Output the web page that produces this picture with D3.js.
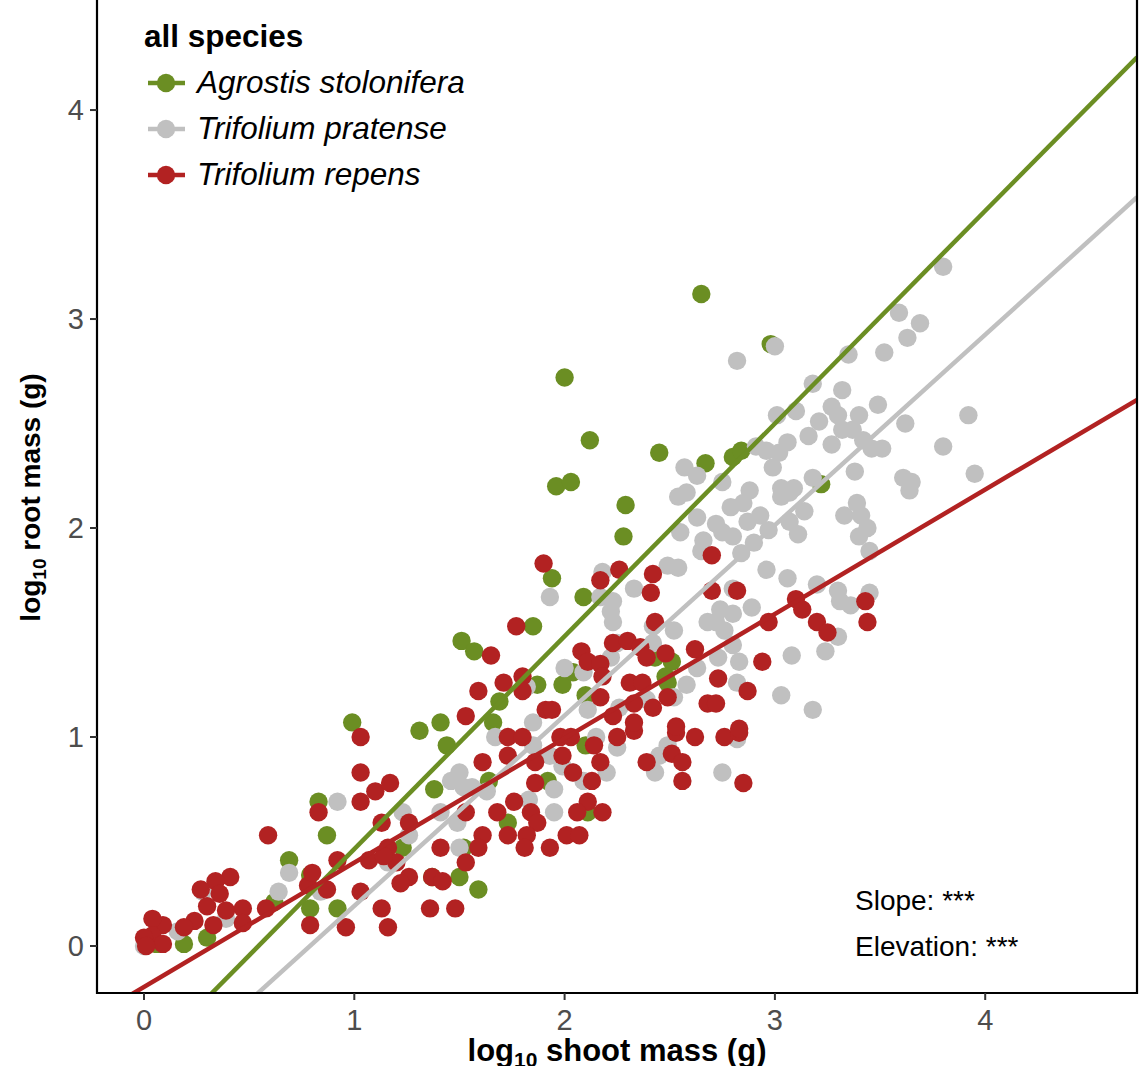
<!DOCTYPE html>
<html>
<head>
<meta charset="utf-8">
<script src="https://cdn.jsdelivr.net/npm/d3@7"></script>
<style>
  body { margin: 0; background: #fff; }
  svg { display: block; font-family: "Liberation Sans", Arial, sans-serif; }
</style>
</head>
<body>
<div id="chart"></div>
<script>
// log10 shoot mass (x), log10 root mass (y)
const agrostis = [
  [2.65,3.12],[2.98,2.88],[2.00,2.72],[2.12,2.42],[2.45,2.36],[2.67,2.31],[2.80,2.34],[2.84,2.37],
  [1.96,2.20],[2.03,2.22],[2.29,2.11],[2.28,1.96],[3.22,2.21],[1.94,1.76],[2.09,1.67],[1.85,1.53],
  [1.51,1.46],[1.57,1.41],[2.51,1.36],[2.43,1.38],[2.48,1.29],[2.49,1.26],[1.69,1.17],[1.87,1.25],
  [1.99,1.25],[2.04,1.31],[2.10,1.20],[1.66,1.07],[1.41,1.07],[0.99,1.07],[1.31,1.03],[1.44,0.96],
  [2.10,0.96],[1.92,0.79],[1.64,0.79],[1.38,0.75],[0.83,0.69],[0.87,0.53],[1.73,0.59],[0.69,0.41],
  [0.79,0.34],[0.79,0.18],[0.92,0.18],[0.62,0.21],[1.59,0.27],[1.50,0.33],[1.37,0.33],[1.52,0.47],
  [2.11,0.64],[1.23,0.47],[0.30,0.04],[0.19,0.01],[0.02,0.02],[0.06,0.01]
];

const pratense = [
  [3.80,3.25],[3.59,3.03],[3.69,2.98],[3.63,2.91],[3.52,2.84],[3.35,2.83],[3.00,2.87],[2.82,2.80],
  [3.18,2.69],[3.32,2.66],[3.49,2.59],[3.27,2.58],[3.30,2.54],[3.40,2.54],[3.21,2.51],[3.10,2.56],
  [3.01,2.54],[3.62,2.50],[3.92,2.54],[3.16,2.44],[3.27,2.40],[3.32,2.47],[3.37,2.47],[3.42,2.42],
  [3.46,2.38],[3.51,2.38],[3.06,2.41],[3.02,2.36],[2.96,2.37],[2.91,2.39],[2.99,2.29],[3.80,2.39],
  [3.38,2.27],[3.61,2.24],[3.65,2.22],[3.95,2.26],[3.18,2.24],[3.09,2.19],[3.03,2.19],[2.88,2.18],
  [2.75,2.22],[2.57,2.29],[2.63,2.25],
  [2.79,2.10],[2.85,2.12],[2.87,2.03],[2.93,2.06],[2.90,1.93],[2.84,1.88],[2.75,1.98],[2.80,1.96],
  [2.72,2.02],[2.97,1.99],[3.03,2.15],[3.07,2.17],[3.14,2.08],[3.11,1.97],[3.07,2.03],[3.39,2.12],
  [3.33,2.06],[3.41,2.06],[3.44,2.00],[3.40,1.96],[3.45,1.89],[3.64,2.18],[2.96,1.80],[3.06,1.76],
  [3.20,1.73],[3.30,1.70],[3.31,1.65],[3.36,1.63],[3.45,1.69],[2.89,1.62],[2.80,1.71],[2.74,1.61],
  [2.80,1.59],[2.72,1.55],[2.76,1.51],[2.80,1.44],[2.73,1.38],[2.83,1.36],[2.82,1.26],[3.08,1.39],
  [3.24,1.41],[3.30,1.48],[3.03,1.20],[3.18,1.13],
  [2.54,2.15],[2.58,2.17],[2.63,2.05],[2.55,1.98],[2.66,1.94],[2.65,1.89],[2.18,1.79],[2.33,1.71],
  [2.49,1.82],[2.54,1.81],[1.93,1.67],[2.17,1.67],[2.23,1.65],[2.22,1.60],[2.23,1.55],[2.42,1.53],
  [2.52,1.51],[2.42,1.45],[2.25,1.45],[2.00,1.33],[2.09,1.31],[2.22,1.38],[2.58,1.25],[2.52,1.19],
  [2.39,1.18],[2.26,1.14],[2.11,1.13],[1.85,1.07],[1.82,1.24],[2.63,1.33],[2.68,1.55],
  [1.67,1.00],[1.85,0.96],[1.93,0.91],[1.99,0.86],[2.04,0.83],[2.15,1.00],[2.25,0.95],[2.20,0.83],
  [2.09,0.79],[1.95,0.75],[1.50,0.83],[1.46,0.79],[1.52,0.76],[1.56,0.76],[1.63,0.74],[1.41,0.64],
  [1.49,0.59],[1.83,0.70],[1.95,0.64],[1.50,0.47],[2.45,0.91],[2.49,0.96],[2.43,0.83],[2.75,0.83],
  [2.82,0.99],[0.92,0.69],[0.69,0.35],[0.64,0.26],[0.39,0.13],[0.28,0.26],[0.16,0.07],[0.00,0.00],
  [1.23,0.64],[1.26,0.53],[1.16,0.40],[0.84,0.26]
];

const repens = [
  [1.03,1.00],[1.03,0.83],[1.10,0.74],[1.17,0.78],[1.03,0.69],[0.83,0.64],[0.59,0.53],[1.13,0.59],
  [1.26,0.59],[0.92,0.41],[1.07,0.41],[1.16,0.47],[1.20,0.40],[1.26,0.33],[1.22,0.30],[1.03,0.26],
  [0.87,0.27],[0.78,0.29],[0.58,0.18],[0.79,0.10],[1.13,0.18],[1.16,0.09],[0.96,0.09],[0.47,0.18],
  [0.41,0.33],[0.34,0.31],[0.27,0.27],[0.36,0.25],[0.30,0.19],[0.39,0.17],[0.47,0.11],[0.33,0.10],
  [0.24,0.12],[0.19,0.09],[0.09,0.10],[0.04,0.13],[0.04,0.05],[0.09,0.01],[0.00,0.04],[0.01,0.00],
  [1.14,0.43],[0.80,0.35],
  [1.73,1.00],[1.80,1.00],[1.98,1.00],[2.03,1.00],[2.25,1.00],[2.33,1.03],[2.53,1.02],[2.62,1.00],
  [1.73,0.91],[1.61,0.88],[1.86,0.88],[1.99,0.91],[2.17,0.88],[2.14,0.96],[2.04,0.83],[1.86,0.78],
  [2.13,0.79],[2.39,0.88],[2.51,0.92],[2.56,0.88],[2.56,0.79],[1.68,0.64],[1.76,0.69],[1.84,0.64],
  [1.87,0.59],[2.11,0.69],[2.06,0.64],[2.18,0.64],[1.53,0.64],[1.73,0.53],[1.82,0.53],[1.61,0.53],
  [2.01,0.53],[2.07,0.53],[1.41,0.47],[1.59,0.47],[1.81,0.47],[1.93,0.47],[1.53,0.40],[1.37,0.33],
  [1.42,0.31],[1.36,0.18],[1.48,0.18],[2.76,1.00],[2.83,1.02],[2.85,0.78],
  [1.90,1.83],[2.26,1.80],[2.17,1.75],[2.42,1.78],[2.41,1.69],[2.43,1.55],[1.77,1.53],[1.65,1.39],
  [2.08,1.41],[2.11,1.36],[2.17,1.35],[2.23,1.45],[2.30,1.46],[2.36,1.43],[2.39,1.38],[2.48,1.40],
  [2.62,1.42],[2.18,1.29],[2.31,1.26],[2.37,1.26],[2.17,1.19],[2.33,1.16],[2.42,1.14],[2.49,1.19],
  [1.71,1.26],[1.80,1.29],[1.80,1.22],[1.59,1.22],[1.53,1.10],[1.91,1.13],[1.94,1.13],[2.23,1.10],
  [2.33,1.07],[2.53,1.05],[2.68,1.16],
  [2.70,1.87],[2.82,1.70],[2.70,1.70],[3.10,1.66],[3.13,1.61],[2.97,1.55],[3.20,1.55],[3.25,1.50],
  [3.43,1.65],[3.44,1.55],[2.94,1.36],[2.73,1.28],[2.87,1.22],[2.72,1.16],[2.83,1.04]
];

const speciesNames = ["Agrostis stolonifera", "Trifolium pratense", "Trifolium repens"];
const speciesColors = ["#6B8E23", "#C0C0C0", "#B22222"];
// fitted lines, y = intercept + slope * x
const intercepts = [-0.554, -0.719, -0.196];
const slopes = [1.018, 0.911, 0.595];

const xTicks = [0, 1, 2, 3, 4];
const yTicks = [0, 1, 2, 3, 4];
const notes = ["Slope: ***", "Elevation: ***"];

const width = 1141;
const height = 1066;
const panelLeft = 97, panelRight = 1137, panelTop = 2, panelBottom = 993;

const x = d3.scaleLinear().domain([-0.2235, 4.7218]).range([panelLeft, panelRight]);
const y = d3.scaleLinear().domain([-0.2249, 4.517]).range([panelBottom, panelTop]);

const svg = d3.select("#chart").append("svg")
    .attr("width", width)
    .attr("height", height);

svg.append("clipPath").attr("id", "panel")
  .append("rect")
    .attr("x", panelLeft).attr("y", panelTop)
    .attr("width", panelRight - panelLeft).attr("height", panelBottom - panelTop);

const plot = svg.append("g").attr("clip-path", "url(#panel)");

[agrostis, pratense, repens].forEach((pts, i) => {
  plot.append("g").selectAll("circle")
    .data(pts)
    .enter().append("circle")
    .attr("cx", d => x(d[0]))
    .attr("cy", d => y(d[1]))
    .attr("r", 9.2)
    .attr("fill", speciesColors[i]);
});

const xd = x.domain();
speciesNames.forEach((name, i) => {
  plot.append("line")
    .attr("x1", x(xd[0])).attr("y1", y(intercepts[i] + slopes[i] * xd[0]))
    .attr("x2", x(xd[1])).attr("y2", y(intercepts[i] + slopes[i] * xd[1]))
    .attr("stroke", speciesColors[i])
    .attr("stroke-width", 4.5);
});

// axis lines: left, bottom, right
svg.append("path")
    .attr("d", `M${panelLeft},${panelTop - 10}V${panelBottom}H${panelRight}V${panelTop - 10}`)
    .attr("fill", "none")
    .attr("stroke", "#000")
    .attr("stroke-width", 2.2);

const xAxis = svg.append("g");
xAxis.selectAll("line").data(xTicks).enter().append("line")
    .attr("x1", d => x(d)).attr("x2", d => x(d))
    .attr("y1", panelBottom).attr("y2", panelBottom + 7)
    .attr("stroke", "#333").attr("stroke-width", 2);
xAxis.selectAll("text").data(xTicks).enter().append("text")
    .attr("x", d => x(d)).attr("y", 1030)
    .attr("text-anchor", "middle")
    .attr("font-size", 29).attr("fill", "#4d4d4d")
    .text(d => d);

const yAxis = svg.append("g");
yAxis.selectAll("line").data(yTicks).enter().append("line")
    .attr("x1", panelLeft - 7).attr("x2", panelLeft)
    .attr("y1", d => y(d)).attr("y2", d => y(d))
    .attr("stroke", "#333").attr("stroke-width", 2);
yAxis.selectAll("text").data(yTicks).enter().append("text")
    .attr("x", 84).attr("y", d => y(d) + 10)
    .attr("text-anchor", "end")
    .attr("font-size", 29).attr("fill", "#4d4d4d")
    .text(d => d);

// axis titles (x title runs off the bottom edge, as in the original)
const xt = svg.append("text")
    .attr("x", (panelLeft + panelRight) / 2).attr("y", 1061)
    .attr("text-anchor", "middle")
    .attr("font-size", 31).attr("font-weight", "bold");
xt.append("tspan").text("log");
xt.append("tspan").attr("font-size", 21).attr("dy", 6).text("10");
xt.append("tspan").attr("dy", -6).text(" shoot mass (g)");

const yt = svg.append("text")
    .attr("transform", `translate(40,${(panelTop + panelBottom) / 2}) rotate(-90)`)
    .attr("text-anchor", "middle")
    .attr("font-size", 28).attr("font-weight", "bold");
yt.append("tspan").text("log");
yt.append("tspan").attr("font-size", 19).attr("dy", 6).text("10");
yt.append("tspan").attr("dy", -6).text(" root mass (g)");

// legend
const legend = svg.append("g");
legend.append("text")
    .attr("x", 144).attr("y", 47)
    .attr("font-size", 31.5).attr("font-weight", "bold")
    .text("all species");
speciesNames.forEach((name, i) => {
  const cy = 83 + i * 46;
  legend.append("line")
      .attr("x1", 148).attr("x2", 185).attr("y1", cy).attr("y2", cy)
      .attr("stroke", speciesColors[i]).attr("stroke-width", 4.5);
  legend.append("circle")
      .attr("cx", 166).attr("cy", cy).attr("r", 9.2)
      .attr("fill", speciesColors[i]);
  legend.append("text")
      .attr("x", 197).attr("y", cy + 10)
      .attr("font-size", 31.5).attr("font-style", "italic")
      .text(name);
});

svg.append("g").selectAll("text")
  .data(notes)
  .enter().append("text")
    .attr("x", 855).attr("y", (d, i) => 910 + i * 46)
    .attr("font-size", 28)
    .text(d => d);
</script>
</body>
</html>
